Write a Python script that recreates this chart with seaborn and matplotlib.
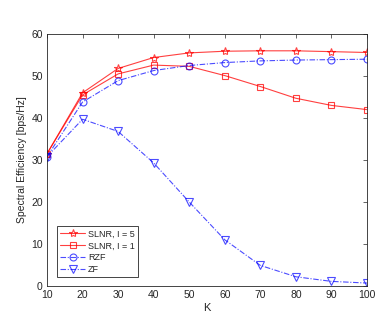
import matplotlib
matplotlib.use("Agg")
import matplotlib.pyplot as plt
import seaborn as sns
import pandas as pd

K = [10, 20, 30, 40, 50, 60, 70, 80, 90, 100]
slnr5 = [31.5, 46.0, 51.8, 54.4, 55.5, 55.9, 56.0, 56.0, 55.8, 55.6]
slnr1 = [31.5, 45.5, 50.5, 52.6, 52.3, 50.1, 47.5, 44.7, 43.0, 42.0]
rzf = [30.8, 43.8, 48.9, 51.3, 52.5, 53.2, 53.6, 53.8, 53.9, 54.0]
zf = [30.8, 39.7, 36.8, 29.3, 20.0, 11.0, 4.9, 2.2, 1.1, 0.7]
labels = ["SLNR, I = 5", "SLNR, I = 1", "RZF", "ZF"]

sns.set_style("white")
plt.rcParams['font.family'] = ['Liberation Sans', 'DejaVu Sans']

fig = plt.figure(figsize=(3.9, 3.27), dpi=100)
ax = fig.add_axes([0.1205, 0.1254, 0.8205, 0.7706])

series = [slnr5, slnr1, rzf, zf]
colors = ["#ff0000", "#ff0000", "#0000ff", "#0000ff"]
markers = ["*", "s", "o", "v"]
styles = ["-", "-", (0, (5, 1.5, 1, 1.5)), (0, (5, 1.5, 1, 1.5))]
alphas = [0.75, 0.75, 0.7, 0.7]
msizes = [6, 5, 5, 6]
for vals, lab, c, m, ls, a, ms in zip(series, labels, colors, markers, styles, alphas, msizes):
    df = pd.DataFrame({"K": K, "v": vals})
    sns.lineplot(data=df, x="K", y="v", ax=ax, color=c, marker=m, linestyle=ls,
                 linewidth=0.8, markersize=ms, markerfacecolor="none",
                 markeredgecolor=c, markeredgewidth=0.8, alpha=a, label=lab)

ax.set_xlim(10, 100)
ax.set_ylim(0, 60)
ax.set_xticks(K)
ax.set_yticks([0, 10, 20, 30, 40, 50, 60])
ax.tick_params(direction="in", top=True, right=True, labelsize=7.5, length=3,
               width=0.5, colors="#262626", pad=3)
for s in ax.spines.values():
    s.set_linewidth(0.6)
    s.set_color("#262626")
    s.set_visible(True)
ax.set_xlabel("K", fontsize=8, color="#262626", labelpad=2)
ax.set_ylabel("Spectral Efficiency [bps/Hz]", fontsize=7.5, color="#262626", labelpad=3)
leg = ax.legend(loc="lower left", bbox_to_anchor=(0.031, 0.036), fontsize=6.5,
                frameon=True, fancybox=False, framealpha=1, edgecolor="#262626",
                handlelength=2.8, borderpad=0.35, labelspacing=0.3, handletextpad=0.3,
                borderaxespad=0)
leg.get_frame().set_linewidth(0.6)

fig.savefig("out.png", dpi=100)
